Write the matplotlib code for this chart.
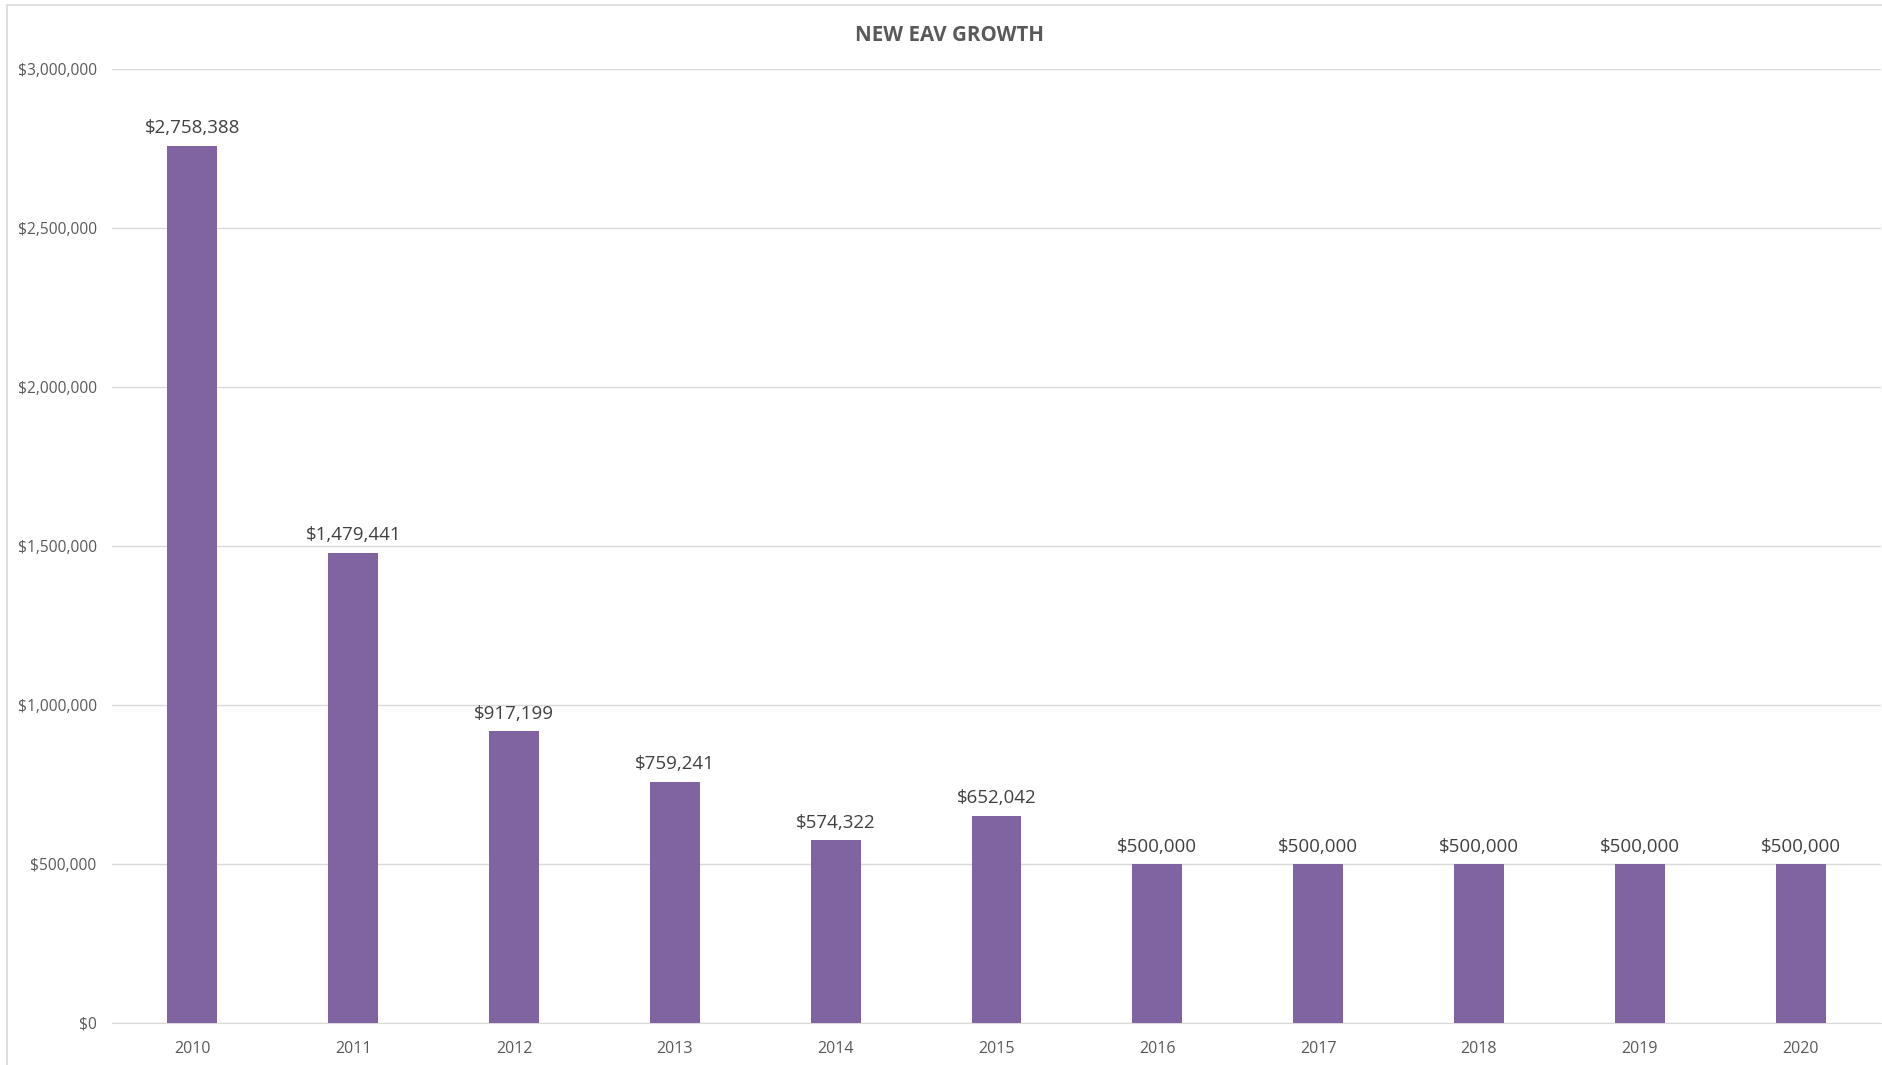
import matplotlib
matplotlib.use("Agg")
import matplotlib.pyplot as plt
from matplotlib.ticker import FuncFormatter
from matplotlib.patches import Rectangle

years = ["2010", "2011", "2012", "2013", "2014", "2015", "2016", "2017", "2018", "2019", "2020"]
values = [2758388, 1479441, 917199, 759241, 574322, 652042, 500000, 500000, 500000, 500000, 500000]
yticks = [0, 500000, 1000000, 1500000, 2000000, 2500000, 3000000]

plt.rcParams['font.family'] = ['Open Sans', 'DejaVu Sans']

W, H = 1883, 1065
fig = plt.figure(figsize=(W / 100, H / 100), dpi=100)
ax = fig.add_axes([112 / W, 1 - 1023 / H, (1881 - 112) / W, (1023 - 69) / H])

x = list(range(len(years)))
bars = ax.bar(x, values, width=0.31, color="#8064A2", zorder=3)

ax.set_xlim(-0.5, len(years) - 0.5)
ax.set_ylim(0, 3000000)
ax.set_yticks(yticks)
ax.yaxis.set_major_formatter(FuncFormatter(lambda v, p: f"${v:,.0f}"))
ax.set_xticks(x)
ax.set_xticklabels(years)
ax.grid(axis="y", color="#D9D9D9", linewidth=1.0, zorder=0)
for s in ["top", "right", "left"]:
    ax.spines[s].set_visible(False)
ax.spines["bottom"].set_color("#D9D9D9")
ax.tick_params(axis="both", length=0, colors="#595959", labelsize=11.5)
ax.tick_params(axis="y", pad=11, labelsize=11.2)
ax.tick_params(axis="x", pad=13)

for xi, v in zip(x, values):
    ax.annotate(f"${v:,.0f}", (xi, v), xytext=(0, 6), textcoords="offset points",
                ha="center", va="bottom", fontsize=13.5, color="#404040")

fig.text(0.5045, 1 - 35.5 / H, "NEW EAV GROWTH", ha="center", va="center",
         fontsize=14.8, fontweight="bold", color="#595959")

fig.patches.append(Rectangle((7 / W, -0.01), 1.01, 1 - 5 / H + 0.01, transform=fig.transFigure,
                             fill=False, edgecolor="#D9D9D9", linewidth=1.2))

fig.savefig("out.png", dpi=100, facecolor="white")
